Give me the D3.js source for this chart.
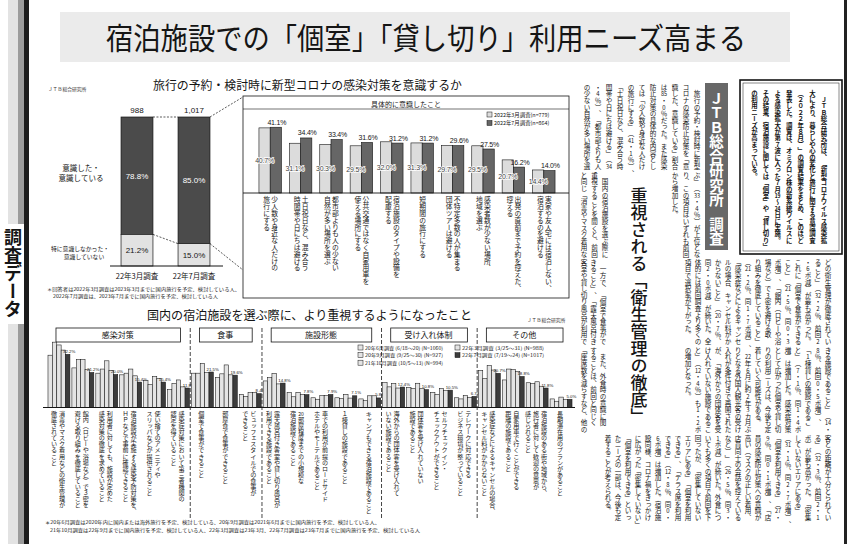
<!DOCTYPE html>
<html><head><meta charset="utf-8">
<script src="https://cdn.jsdelivr.net/npm/d3@7"></script>
<style>
html,body{margin:0;padding:0;background:#fff;}
svg{display:block;font-family:"Noto Sans CJK JP","Noto Sans",sans-serif;}
</style></head><body>
<svg id="c" width="848" height="544"></svg>
<script>
// ===== DATA =====
const pageTitle = "宿泊施設での「個室」「貸し切り」利用ニーズ高まる";
const sideLabel = "調査データ";
const source = "ＪＴＢ総合研究所";

// Chart A: stacked bars
const chartATitle = "旅行の予約・検討時に新型コロナの感染対策を意識するか";
const surveyLabels = ["22年3月調査", "22年7月調査"];
const surveyN = ["988", "1,017"];
const consciousShare = [78.8, 85.0];
const notConsciousShare = [21.2, 15.0];
const chartANotes = ["＊回答者は2022年3月調査は2023年3月までに国内旅行を予定、検討している人、",
                     "2022年7月調査は、2023年7月までに国内旅行を予定、検討している人"];

// Chart B: detail grouped bars
const chartBTitle = "具体的に意識したこと";
const detailSeries = ["2022年3月調査(n=779)", "2022年7月調査(n=864)"];
const detailCats = [
  "少人数や身近な人だけの/旅行にする",
  "土日祝日など、混み合う/時間帯や日にちは避ける",
  "都市部よりも人の少ない/自然が多い場所を選ぶ",
  "公共交通ではなく自家用車を/使える場所にする",
  "宿泊施設のタイプや設備を/配慮する",
  "短期間の旅行にする",
  "不特定多数の人が集まる/団体ツアーは避ける",
  "感染者数が少ない場所、/地域を選ぶ",
  "出発の直前まで予約を控えた、/控える",
  "実家や友人宅には宿泊しない、/宿泊するのを避ける"
];
const detailMar22 = [40.7, 31.1, 30.3, 29.5, 32.0, 31.3, 29.7, 29.5, 20.7, 14.4];
const detailJul22 = [41.1, 34.4, 33.4, 31.6, 31.2, 31.2, 29.6, 27.5, 16.2, 14.0];

// Chart C: facility choice
const chartCTitle = "国内の宿泊施設を選ぶ際に、より重視するようになったこと";
const groupNames = ["感染対策", "食事", "施設形態", "受け入れ体制", "その他"];
const groupSizes = [6, 3, 5, 4, 4];
const facilitySeries = [
  "20年6月調査 (6/18～20) (N=1060)",
  "20年9月調査 (9/25～30) (N=927)",
  "21年10月調査 (10/5～13) (N=994)",
  "22年3月調査 (3/25～31) (N=988)",
  "22年7月調査 (7/19～24) (N=1017)"
];
const facilityItems = [
  "消毒やマスク着用などの衛生管理が/徹底されていること",
  "館内（ロビーや浴場など）で３密を/避ける取り組みを徹底していること",
  "利用者に対しても、施設が定めた/感染対策の徹底を求めていること",
  "宿泊施設が実施する感染予防対策を、/ＨＰなどで事前に確認できること",
  "使い捨てのアメニティや/スリッパなどが提供されること",
  "感染症対策において第三者機関の/認定を得ていること",
  "個室で食事ができること",
  "部屋食で食事ができること",
  "ビュッフェスタイルでの食事が/できること",
  "露天風呂付き客室や貸し切り風呂が/利用できる施設であること",
  "20部屋程度までの小規模な/宿泊施設であること",
  "車での利用が前提のロードサイド/ホテルやモーテルであること",
  "１棟貸しの施設であること",
  "キャンプもできる宿泊施設であること",
  "海外からの団体客を受け入れて/いない施設であること",
  "団体客を受け入れていない/施設であること",
  "セルフチェックイン・/チェックアウトができること",
  "テレワークに対応できる/ビジネス環境が整っていること",
  "感染症などによるキャンセルの場合、/キャンセル料がかからないこと",
  "自家用車で行くことができる/距離の施設であること",
  "宿泊施設のある街や地域から、/旅行者に対して歓迎の意思が/感じられること",
  "長期滞在用のプランがあること"
];
const s20jun = [31.7, 24.0, 20.8, 19.8, 16.3, 10.8, 20.8, 18.3, 7.9, 16.1, 9.2, 5.9, 5.9, 5.2, 15.2, 12.2, 9.2, 5.9, 22.5, 16.7, 15.0, 5.2];
const s20sep = [39.6, 29.0, 23.3, 20.8, 14.0, 14.6, 20.8, 20.4, 6.7, 18.1, 6.5, 5.0, 5.5, 4.2, 12.5, 11.6, 8.0, 5.2, 17.7, 23.3, 14.6, 3.8];
const s21oct = [37.9, 29.0, 28.3, 23.3, 18.8, 16.7, 26.7, 25.8, 9.0, 20.7, 9.2, 7.2, 8.0, 7.1, 14.6, 14.7, 11.6, 7.2, 25.4, 22.9, 15.6, 6.3];
const s22mar = [34.8, 22.9, 22.5, 19.2, 17.7, 12.5, 21.2, 19.8, 9.0, 14.3, 8.0, 7.2, 5.7, 7.1, 11.8, 11.6, 10.2, 6.2, 22.7, 21.9, 12.9, 4.8];
const s22jul = [32.2, 21.2, 20.0, 15.4, 15.4, 11.8, 21.5, 19.6, 8.4, 14.8, 7.8, 7.9, 7.1, 5.8, 12.4, 10.8, 10.5, 6.7, 20.7, 18.8, 11.8, 5.0];
const chartCNotes = [
  "＊20年6月調査は2020年内に国内または海外旅行を予定、検討している、20年9月調査は2021年6月までに国内旅行を予定、検討している人、",
  "21年10月調査は22年9月までに国内旅行を予定、検討している人、22年3月調査は23年3月、22年7月調査は23年7月までに国内旅行を予定、検討している人"
];

// Article text (vertical columns; ASCII digit pairs are set tate-chu-yoko)
const leadCols = [
  "　ＪＴＢ総合研究所は、「新型コロナウイルス感染拡",
  "大により、暮らしや心の変化と旅行に関する意識調査",
  "（２０２２年８月）」の調査結果をまとめ、このほど",
  "発表した。調査は、オミクロン株の新系統ウイルスに",
  "よる感染拡大が第７波に入った７月19～24日に実施。",
  "その結果、宿泊施設に関しては「個室」や「貸し切り」",
  "の利用ニーズが高まっている。"
];
const boxLabel = ["ＪＴＢ総合研究所", "調査"];
const headline = "重視される「衛生管理の徹底」";
const tier1 = [
  "　旅行の予約・検討時に新型", "コロナの感染防止対策を「意", "識した、意識している」割合",
  "は85・0％だった。また感染", "防止対策の具体的な内容とし", "ては「少人数や身近な人だけ",
  "の旅行にする」（41・1％）、", "「土日祝日など、混み合う時", "間帯や日にちは避ける」（34",
  "・4％）、「都市部よりも人", "の少ない自然が多い場所を選"
];
const tier2R = ["ぶ」（33・4％）が上位とな", "り、この項目はいずれも前回", "から増加した。"];
const tier2L = ["　国内の宿泊施設を選ぶ際に", "重視することを聞くと、前回", "と同じ「消毒やマスク着用な"];
const tier3R = [
  "どの衛生管理が徹底されてい", "ること」（32・2％、前回2", "・6ポ減）が最も高かった。",
  "これに「個室で食事ができる", "こと」（21・5％、同0・3", "ポ増）、「館内（ロビーや浴",
  "場など）で3密を避ける取", "り組みを徹底していること」", "（21・2％、同1・7ポ減）、",
  "「感染症などによるキャンセ", "ルの場合、キャンセル料がか", "からないこと」（20・7％、",
  "同2・0ポ減）が続いた。全", "体的には前回調査より多くの", "項目で選択率が下がった。"
];
const tier3L = ["　一方で、「個室で食事がで", "きること」、「露天風呂付き", "客室や貸し切り風呂が利用で"];
const tier4R = [
  "きる施設であること」（14・", "8％、前回0・5ポ増）、", "「1棟貸しの施設であるこ",
  "と」（7・1％、同1・4ポ", "増）は増加した。感染症対策", "として広がった個室や貸し切",
  "りの利用ニーズは、今後も定", "着していく可能性がある。", "　22年6月に約2年3カ月ぶ",
  "りとなる外国人観光客の受け", "入れが条件付きで再開された", "が、「海外からの団体客を受",
  "け入れていない施設であるこ", "と」（12・4％）も1・2ポ", "の増加となった。"
];
const tier4L = ["　また、外食時の意識に関", "することは、前回と同じく", "「座席数を減らすなど、他の"];
const tier5 = [
  "客との距離が十分とられてい", "る」（32・3％、前回2・1", "ポ）が最も高かった。「密集",
  "していないエリアにある」", "（31・1％、同2・7ポ増）、", "「個室を利用できる」（27・",
  "9％、同0・1ポ増）、「店", "員の感染防止対策への意識が", "高い（マスクの正しい着用、",
  "店員同士の会話を控えている", "など）」（26・5％、同3・", "1ポ減）が続いた。外食につ",
  "いても多くの項目で前回を下", "回ったが、「密集していない", "エリアにある」「個室を利用",
  "できる」、「テラス席を利用", "できる」（12・8％、同0・", "6ポ増）は増加した。宿泊施",
  "設同様、コロナ禍をきっかけ", "に広がった「密集していない」", "「個室を利用できる」といっ",
  "たニーズの一部は、今後も定", "着することが考えられる。"
];

// ===== DRAW =====
const svg = d3.select("#c");
const INK = "#151515";
svg.append("rect").attr("width", 848).attr("height", 544).attr("fill", "#fff");

function applyAttrs(t, attrs) { if (attrs) for (const k in attrs) t.attr(k, attrs[k]); return t; }
function vtext(parent, x, y, str, size, attrs) {
  const t = parent.append("text").attr("x", x).attr("y", y)
    .style("writing-mode", "vertical-rl").attr("font-size", size).attr("fill", INK).text(str);
  return applyAttrs(t, attrs);
}
function htext(parent, x, y, str, size, attrs) {
  const t = parent.append("text").attr("x", x).attr("y", y).attr("font-size", size).attr("fill", INK).text(str);
  return applyAttrs(t, attrs);
}
function tokenize(s) {
  const out = []; let i = 0;
  while (i < s.length) {
    if (/[0-9]/.test(s[i])) {
      let j = i; while (j < s.length && /[0-9]/.test(s[j]) && j - i < 2) j++;
      out.push({ t: s.slice(i, j), tcy: true }); i = j;
    } else { out.push({ t: s[i], tcy: false }); i++; }
  }
  return out;
}
// vertical column, one cell per token, digit runs set horizontally in one cell
function vcol(parent, x, y, str, size, attrs) {
  tokenize(str).forEach((tk, k) => {
    const yy = y + k * size;
    if (tk.tcy) {
      const a = Object.assign({ "text-anchor": "middle", "dominant-baseline": "central" }, attrs || {});
      if (tk.t.length > 1) { a.textLength = size * 0.92; a.lengthAdjust = "spacingAndGlyphs"; }
      htext(parent, x, yy + size * 0.5, tk.t, size * 0.9, a);
    } else {
      vtext(parent, x, yy, tk.t, size, attrs);
    }
  });
}
function ln(g, x1, y1, x2, y2, a) {
  const l = g.append("line").attr("x1", x1).attr("y1", y1).attr("x2", x2).attr("y2", y2);
  return applyAttrs(l, a);
}

// left strip
svg.append("rect").attr("x", 8).attr("y", 0).attr("width", 10).attr("height", 544).attr("fill", "#e3e3e3");
svg.append("rect").attr("x", 18).attr("y", 0).attr("width", 6).attr("height", 544).attr("fill", "#9c9c9c");
svg.append("rect").attr("x", 24).attr("y", 0).attr("width", 5).attr("height", 544).attr("fill", "#1c1c1c");
svg.append("rect").attr("x", 0).attr("y", 224).attr("width", 24).attr("height", 100).attr("fill", "#fff");
vtext(svg, 13, 228, sideLabel, 18, { "font-weight": 700 });

// right edge line
svg.append("rect").attr("x", 844).attr("y", 0).attr("width", 3).attr("height", 544).attr("fill", "#222");

// title banner
svg.append("rect").attr("x", 60).attr("y", 12).attr("width", 730).attr("height", 50).attr("fill", "#ebebeb");
htext(svg, 106, 49, pageTitle, 30, { "textLength": 640, "lengthAdjust": "spacingAndGlyphs" });

// ---- Chart A ----
htext(svg, 153, 89.5, chartATitle, 12, { "textLength": 309, "lengthAdjust": "spacingAndGlyphs" });
htext(svg, 48, 91, source, 4.8, { "fill": "#333" });
const yA = d3.scaleLinear().domain([0, 100]).range([266, 117]);
const xA = d3.scaleBand().domain(surveyLabels).range([107, 224]).paddingInner(0.44).paddingOuter(0.246);
const gA = svg.append("g");
surveyLabels.forEach((s, i) => {
  const x = xA(s), w = xA.bandwidth();
  gA.append("rect").attr("x", x).attr("y", yA(100)).attr("width", w)
    .attr("height", yA(notConsciousShare[i]) - yA(100)).attr("fill", "#4b4b4b").attr("stroke", INK).attr("stroke-width", 0.7);
  gA.append("rect").attr("x", x).attr("y", yA(notConsciousShare[i])).attr("width", w)
    .attr("height", yA(0) - yA(notConsciousShare[i])).attr("fill", "#e2e2e2").attr("stroke", INK).attr("stroke-width", 0.7);
  htext(gA, x + w / 2, yA(100) - 4, surveyN[i], 8, { "text-anchor": "middle", "font-family": "Liberation Sans" });
  htext(gA, x + w / 2, (yA(100) + yA(notConsciousShare[i])) / 2 + 3, consciousShare[i].toFixed(1) + "%", 8,
    { "text-anchor": "middle", "fill": "#fff", "font-family": "Liberation Sans" });
  htext(gA, x + w / 2, (yA(0) + yA(notConsciousShare[i])) / 2 + 3, notConsciousShare[i].toFixed(1) + "%", 8,
    { "text-anchor": "middle", "font-family": "Liberation Sans" });
  htext(gA, x + w / 2, 279, s, 7.5, { "text-anchor": "middle" });
});
ln(gA, 110, yA(0), 223, yA(0), { "stroke": INK, "stroke-width": 1 });
const xa0 = xA(surveyLabels[0]) + xA.bandwidth(), xa1 = xA(surveyLabels[1]), xa1e = xa1 + xA.bandwidth();
const dash = { "stroke": INK, "stroke-width": 0.7, "stroke-dasharray": "2,1.5", "fill": "none" };
ln(gA, xa0, yA(100), xa1, yA(100), dash);
ln(gA, xa0, yA(notConsciousShare[0]), xa1, yA(notConsciousShare[1]), dash);
ln(gA, xa1e, yA(100), 243, 97, dash);
ln(gA, xa1e, yA(notConsciousShare[1]), 243, 270, dash);
htext(gA, 81, 171, "意識した・", 7.5, { "text-anchor": "middle" });
htext(gA, 81, 181, "意識している", 7.5, { "text-anchor": "middle" });
htext(gA, 80, 251, "特に意識しなかった・", 5.8, { "text-anchor": "middle" });
htext(gA, 84, 259, "意識していない", 5.8, { "text-anchor": "middle" });
htext(gA, 47, 291, chartANotes[0], 4.7, { "textLength": 193, "lengthAdjust": "spacingAndGlyphs" });
htext(gA, 53, 298, chartANotes[1], 4.7, { "textLength": 165, "lengthAdjust": "spacingAndGlyphs" });

// ---- Chart B ----
const gB = svg.append("g");
gB.append("rect").attr("x", 243).attr("y", 96).attr("width", 326).attr("height", 202).attr("fill", "none").attr("stroke", INK).attr("stroke-width", 0.8);
ln(gB, 243, 109, 569, 109, { "stroke": INK, "stroke-width": 0.6 });
htext(gB, 406, 106.5, chartBTitle, 7, { "text-anchor": "middle" });
[0, 1].forEach(i => {
  gB.append("rect").attr("x", 487).attr("y", 112 + i * 8.5).attr("width", 5).attr("height", 5)
    .attr("fill", i ? "#666" : "#dcdcdc").attr("stroke", INK).attr("stroke-width", 0.5);
  htext(gB, 494, 116.6 + i * 8.5, detailSeries[i], 5.4);
});
const yB = d3.scaleLinear().domain([0, 50]).range([193, 113]);
const xB = d3.scaleBand().domain(detailCats).range([255, 559]).paddingInner(0.26).paddingOuter(0.13);
const xBi = d3.scaleBand().domain([0, 1]).range([0, xB.bandwidth()]);
detailCats.forEach((c, i) => {
  const x0 = xB(c);
  [detailMar22[i], detailJul22[i]].forEach((v, j) => {
    gB.append("rect").attr("x", x0 + xBi(j)).attr("y", yB(v)).attr("width", xBi.bandwidth()).attr("height", yB(0) - yB(v))
      .attr("fill", j ? "#666" : "#dcdcdc").attr("stroke", INK).attr("stroke-width", 0.6);
  });
  htext(gB, x0 + xBi(1) + xBi.bandwidth() / 2 + 1, yB(detailJul22[i]) - 2.5, detailJul22[i].toFixed(1) + "%", 7,
    { "text-anchor": "middle", "font-family": "Liberation Sans Narrow, Liberation Sans", "letter-spacing": -0.2 });
  htext(gB, x0 + xBi(0) + xBi.bandwidth() / 2, (yB(detailMar22[i]) + yB(0)) / 2 + 2.5, detailMar22[i].toFixed(1) + "%", 7,
    { "text-anchor": "middle", "fill": "#444", "stroke": "#fff", "stroke-width": 1.5, "paint-order": "stroke",
      "font-family": "Liberation Sans Narrow, Liberation Sans", "letter-spacing": -0.2 });
  const cols = c.split("/");
  const cx = x0 + xB.bandwidth() / 2 + 0.5;
  cols.forEach((t, k) => vcol(gB, cx + ((cols.length - 1) / 2 - k) * 8, 196.5, t, 6.8));
});
ln(gB, 243, yB(0), 569, yB(0), { "stroke": INK, "stroke-width": 0.9 });

// ---- Chart C ----
const gC = svg.append("g");
htext(gC, 147, 320, chartCTitle, 12.5, { "textLength": 325, "lengthAdjust": "spacingAndGlyphs" });
htext(gC, 527, 322, source, 4.8, { "fill": "#333" });
const xC = d3.scaleBand().domain(facilityItems).range([46, 574]).paddingInner(0.083).paddingOuter(0.083);
const xCi = d3.scaleBand().domain(d3.range(5)).range([0, xC.bandwidth()]);
const yC = d3.scaleLinear().domain([0, 40]).range([407.5, 341.5]);
const facilityData = [s20jun, s20sep, s21oct, s22mar, s22jul];
let idx = 0;
groupNames.forEach((g, gi) => {
  const first = facilityItems[idx], last = facilityItems[idx + groupSizes[gi] - 1];
  const gx0 = xC(first) - 2, gx1 = xC(last) + xC.bandwidth();
  gC.append("rect").attr("x", gx0 + 10).attr("y", 328).attr("width", gx1 - gx0 - 19).attr("height", 14)
    .attr("fill", "#fff").attr("stroke", INK).attr("stroke-width", 0.8);
  htext(gC, (gx0 + gx1) / 2, 338, g, 8, { "text-anchor": "middle" });
  if (gi > 0) ln(gC, gx0 + 0.8, 328, gx0 + 0.8, 518, { "stroke": INK, "stroke-width": 0.8, "stroke-dasharray": "4,2" });
  idx += groupSizes[gi];
});
facilitySeries.forEach((s, i) => {
  const lx = i < 3 ? 358 : 455, ly = 345 + (i % 3) * 7.6;
  gC.append("rect").attr("x", lx).attr("y", ly).attr("width", 5).attr("height", 5)
    .attr("fill", i === 4 ? "#3c3c3c" : "#e4e4e4").attr("stroke", INK).attr("stroke-width", 0.5);
  htext(gC, lx + 7, ly + 4.6, s, 4.8, { "textLength": i < 3 ? 78 : 82, "lengthAdjust": "spacingAndGlyphs" });
});
facilityItems.forEach((c, i) => {
  const x0 = xC(c);
  facilityData.forEach((ser, j) => {
    gC.append("rect").attr("x", x0 + xCi(j)).attr("y", yC(ser[i])).attr("width", xCi.bandwidth()).attr("height", yC(0) - yC(ser[i]))
      .attr("fill", j === 4 ? "#3c3c3c" : "#e4e4e4").attr("stroke", INK).attr("stroke-width", 0.55);
  });
  htext(gC, x0 + xCi(4) + xCi.bandwidth() / 2 + 1.5, yC(s22jul[i]) - 1.5, s22jul[i].toFixed(1) + "%", 4.3,
    { "text-anchor": "middle", "font-family": "Liberation Sans Narrow, Liberation Sans" });
  const cols = c.split("/");
  const cx = x0 + xC.bandwidth() / 2 - 1;
  cols.forEach((t, k) => vcol(gC, cx + ((cols.length - 1) / 2 - k) * 8, 410.5, t, 6.1));
});
ln(gC, 43, yC(0), 575, yC(0), { "stroke": INK, "stroke-width": 1 });
htext(gC, 45, 524, chartCNotes[0], 4.8, { "textLength": 335, "lengthAdjust": "spacingAndGlyphs" });
htext(gC, 50, 531.5, chartCNotes[1], 4.8, { "textLength": 370, "lengthAdjust": "spacingAndGlyphs" });

// ---- Article ----
const gD = svg.append("g");
function columns(lines, x0, step, y0, size, attrs) {
  lines.forEach((t, i) => vcol(gD, x0 - i * step, y0, t, size, attrs));
}
gD.append("rect").attr("x", 740).attr("y", 80).attr("width", 102).attr("height", 174).attr("fill", "#fff").attr("stroke", INK).attr("stroke-width", 1.6);
gD.append("rect").attr("x", 743).attr("y", 83).attr("width", 96).attr("height", 168).attr("fill", "none").attr("stroke", INK).attr("stroke-width", 0.5);
columns(leadCols, 824, 11.6, 90, 6.4, { "font-weight": 700 });
gD.append("rect").attr("x", 705).attr("y", 83).attr("width", 23).attr("height", 167).attr("fill", "#686868");
vtext(gD, 716.5, 91, boxLabel[0], 14.5, { "fill": "#fff", "font-weight": 700 });
vtext(gD, 716.5, 217, boxLabel[1], 14.5, { "fill": "#fff", "font-weight": 700 });
vtext(gD, 639, 187, headline, 17, { "font-weight": 500 });
const FS = 6.6;
columns(tier1, 697, 11, 84, FS);
columns(tier2R, 697, 11, 172, FS);
columns(tier2L, 605, 10.5, 172, FS);
columns(tier3R, 828, 10, 259, FS);
columns(tier3L, 603, 9.5, 259, FS);
columns(tier4R, 828, 10, 347, FS);
columns(tier4L, 603, 9.5, 347, FS);
columns(tier5, 828, 10, 435, FS);
</script>
</body></html>
